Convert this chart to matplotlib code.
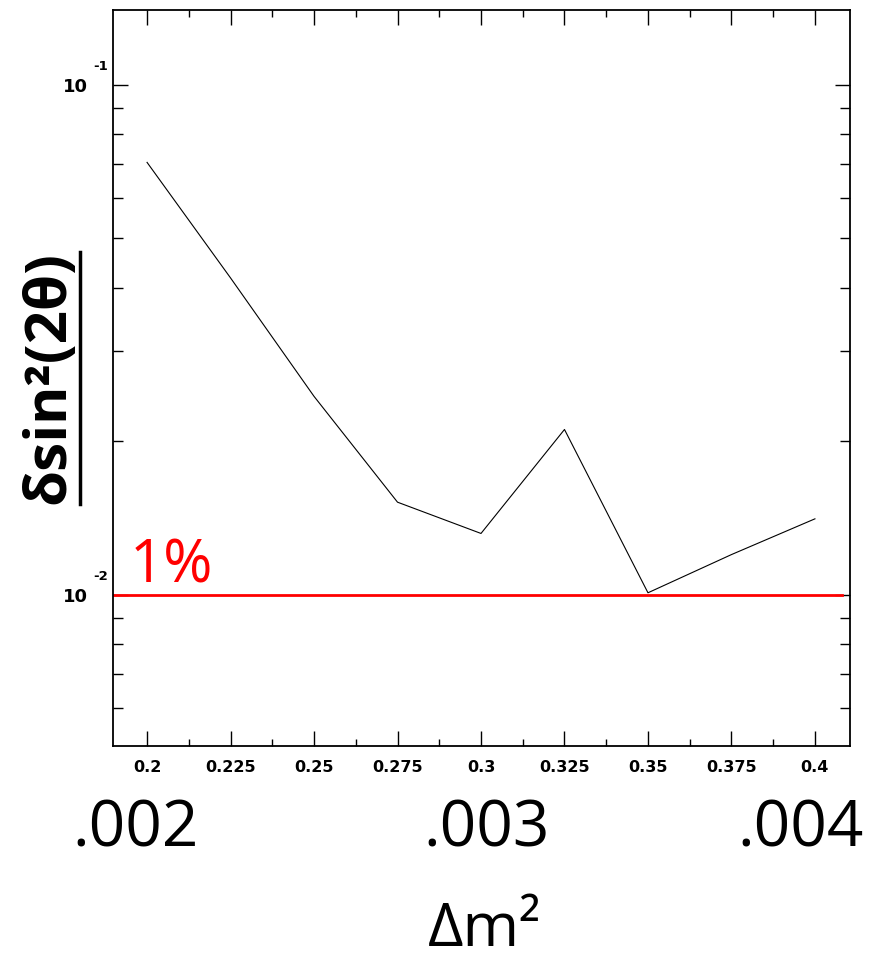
import matplotlib
matplotlib.use('Agg')
import matplotlib.pyplot as plt
from matplotlib.lines import Line2D
from matplotlib.ticker import MultipleLocator, LogLocator, NullFormatter

# values
dm_scaled = [0.2, 0.225, 0.25, 0.275, 0.3, 0.325, 0.35, 0.375, 0.4]
dsin2 = [0.0704, 0.0418, 0.0245, 0.0152, 0.0132, 0.0211, 0.0101, 0.0120, 0.0141]
xtick_vals = [0.2, 0.225, 0.25, 0.275, 0.3, 0.325, 0.35, 0.375, 0.4]
xtick_labels = ['0.2', '0.225', '0.25', '0.275', '0.3', '0.325', '0.35', '0.375', '0.4']
big_x = [0.2, 0.3, 0.4]
big_labels = ['.002', '.003', '.004']
big_shift = [-8, 4, -10]   # hand placement in the original, in points
ytick_vals = [0.01, 0.1]
ytick_exps = ['-2', '-1']
one_percent = 0.01

W, H = 872, 959
fig = plt.figure(figsize=(W / 100, H / 100), dpi=100)
ax = fig.add_axes([113 / W, 1 - 746 / H, 737 / W, 736 / H])

ax.plot(dm_scaled, dsin2, color='black', lw=0.8)
ax.axhline(one_percent, xmin=0, xmax=0.989, color='red', lw=2.0)

ax.set_yscale('log')
ax.set_xlim(0.1898, 0.4105)
ax.set_ylim(0.00506, 0.140)

ax.set_xticks(xtick_vals)
ax.set_xticklabels(xtick_labels, fontfamily='DejaVu Sans', fontweight='bold', fontsize=11.5)
ax.xaxis.set_minor_locator(MultipleLocator(0.0125))
ax.set_yticks(ytick_vals)
ax.set_yticklabels(['10'] * len(ytick_vals), fontfamily='DejaVu Sans', fontweight='bold', fontsize=13)
ax.yaxis.set_minor_locator(LogLocator(base=10, subs=range(2, 10), numticks=20))
ax.yaxis.set_minor_formatter(NullFormatter())

ax.tick_params(which='both', direction='in', top=True, right=True, width=1.0)
ax.tick_params(axis='x', which='major', length=11, pad=10)
ax.tick_params(axis='x', which='minor', length=5)
ax.tick_params(axis='y', which='major', length=11, pad=18)
ax.tick_params(axis='y', which='minor', length=7)
for s in ax.spines.values():
    s.set_linewidth(1.3)

for v, e in zip(ytick_vals, ytick_exps):
    ax.annotate(e, xy=(0, v), xycoords=('axes fraction', 'data'),
                xytext=(-3.5, 8.5), textcoords='offset points',
                ha='right', va='bottom', fontfamily='DejaVu Sans',
                fontweight='bold', fontsize=9.5)

ax.annotate('1%', xy=(0.023, one_percent), xycoords=('axes fraction', 'data'),
            xytext=(0, 9), textcoords='offset points', ha='left', va='baseline',
            color='red', fontfamily='Open Sans', fontsize=43)

for xv, lab, dx in zip(big_x, big_labels, big_shift):
    ax.annotate(lab, xy=(xv, -0.137), xycoords=('data', 'axes fraction'),
                xytext=(dx, 0), textcoords='offset points',
                ha='center', va='baseline', fontfamily='Open Sans', fontsize=46)

fig.text(485 / W, 1 - 946 / H, 'Δm²', ha='center', va='baseline',
         fontfamily='Open Sans', fontsize=44)

ylab = fig.text(49 / W, 1 - 378 / H, 'δsin²(2θ)', rotation=90, ha='center', va='center',
                fontfamily='Open Sans', fontweight='bold', fontsize=42)

fig.canvas.draw()
bb = ylab.get_window_extent().transformed(fig.transFigure.inverted())
fig.add_artist(Line2D([bb.x1 + 0.002, bb.x1 + 0.002], [bb.y0, bb.y1],
                      transform=fig.transFigure, color='black', lw=2.5))

fig.savefig('out.png', dpi=100)
